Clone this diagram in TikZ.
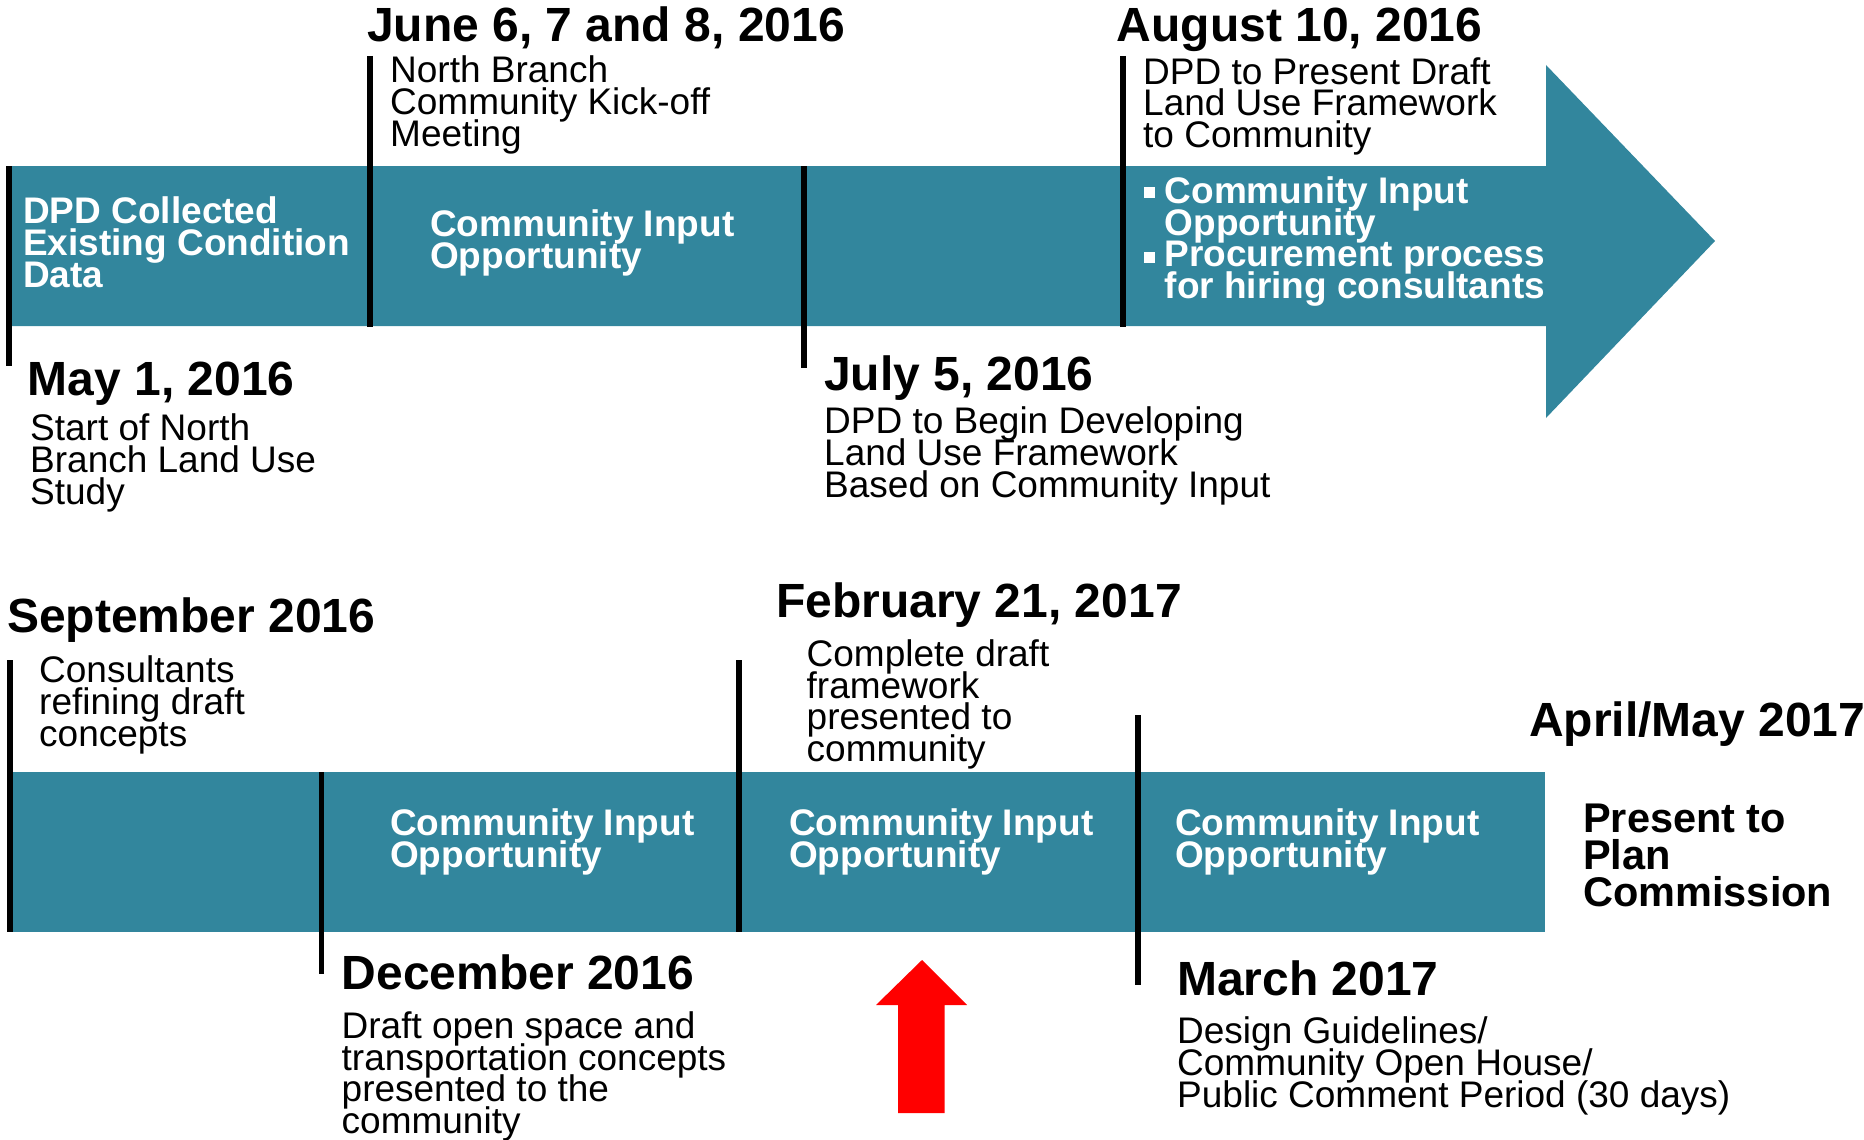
\documentclass[tikz,border=0pt]{standalone}
\usepackage{fontspec}
\setmainfont{Liberation Sans}
\definecolor{bandteal}{HTML}{32869D}
\definecolor{arrowred}{HTML}{FF0000}
\newcommand\tightls{\lineskiplimit=-100pt\relax\lineskip=0pt\relax}
\begin{document}
\begin{tikzpicture}[x=1pt,y=-1pt,
  hdr/.style={anchor=base west,inner sep=0pt,font=\fontsize{48}{50}\selectfont\bfseries},
  txt/.style={anchor=base west,inner sep=0pt,align=left,font=\fontsize{37}{31.7}\selectfont\tightls},
  btxt/.style={anchor=base west,inner sep=0pt,align=left,text=white,font=\fontsize{37}{31.7}\selectfont\bfseries\tightls},
  pres/.style={anchor=base west,inner sep=0pt,align=left,font=\fontsize{41.5}{37}\selectfont\bfseries\tightls},
  tick/.style={line width=5.5pt},
  bullet/.style={fill=white}]
\useasboundingbox (0,0) rectangle (1864,1140);
% bands
\fill[bandteal] (8,166) -- (1546,166) -- (1546,65) -- (1715,241) -- (1546,418) -- (1546,326) -- (8,326) -- cycle;
\fill[bandteal] (8,772) rectangle (1545,932);
% red arrow
\fill[arrowred] (898,1113) -- (898,1005) -- (876,1005) -- (922,960) -- (967,1005) -- (944.5,1005) -- (944.5,1113) -- cycle;
% ticks
\draw[tick] (9,166) -- (9,366);
\draw[tick] (370,56) -- (370,327);
\draw[tick] (804,166) -- (804,368);
\draw[tick] (1123,56) -- (1123,327);
\draw[tick] (10,660) -- (10,932);
\draw[tick] (321.5,772) -- (321.5,974);
\draw[tick] (739,660) -- (739,932);
\draw[tick] (1138,715) -- (1138,985);
% top row texts (multi-line nodes are placed by their last baseline)
\node[hdr] (june) at (367,41.5) {June 6, 7 and 8, 2016};
\node[txt] (juneT) at (390,146) {North Branch\\Community Kick-off\\Meeting};
\node[hdr] (aug) at (1116.5,41.5) {August 10, 2016};
\node[txt] (augT) at (1143,147.5) {DPD to Present Draft\\Land Use Framework\\to Community};
\node[btxt] (dpd) at (23,287) {DPD Collected\\Existing Condition\\Data};
\node[btxt] (ci1) at (430,268.5) {Community Input\\Opportunity};
\node[btxt] (bul) at (1164.5,298.5) {Community Input\\Opportunity\\Procurement process\\for hiring consultants};
\fill[bullet] (1144,187) rectangle (1155,198);
\fill[bullet] (1144,252) rectangle (1155,263);
\node[hdr] (may) at (27.5,395) {May 1, 2016};
\node[txt] (mayT) at (30,504) {Start of North\\Branch Land Use\\Study};
\node[hdr] (july) at (824,390) {July 5, 2016};
\node[txt] (julyT) at (824,497) {DPD to Begin Developing\\Land Use Framework\\Based on Community Input};
% bottom row texts
\node[hdr] (sep) at (7,632) {September 2016};
\node[txt] (sepT) at (39,746) {Consultants\\refining draft\\concepts};
\node[hdr] (feb) at (776,617) {February 21, 2017};
\node[txt] (febT) at (806.5,761.5) {Complete draft\\framework\\presented to\\community};
\node[hdr] (apr) at (1529,736) {April/May 2017};
\node[pres] (pres) at (1583,906) {Present to\\Plan\\Commission};
\node[btxt] (ci2) at (390,867) {Community Input\\Opportunity};
\node[btxt] (ci3) at (789,867) {Community Input\\Opportunity};
\node[btxt] (ci4) at (1175,867) {Community Input\\Opportunity};
\node[hdr] (dec) at (341.5,989) {December 2016};
\node[txt] (decT) at (341.5,1133.5) {Draft open space and\\transportation concepts\\presented to the\\community};
\node[hdr] (mar) at (1177,995) {March 2017};
\node[txt] (marT) at (1177,1107) {Design Guidelines/\\Community Open House/\\Public Comment Period (30 days)};
\end{tikzpicture}
\end{document}
